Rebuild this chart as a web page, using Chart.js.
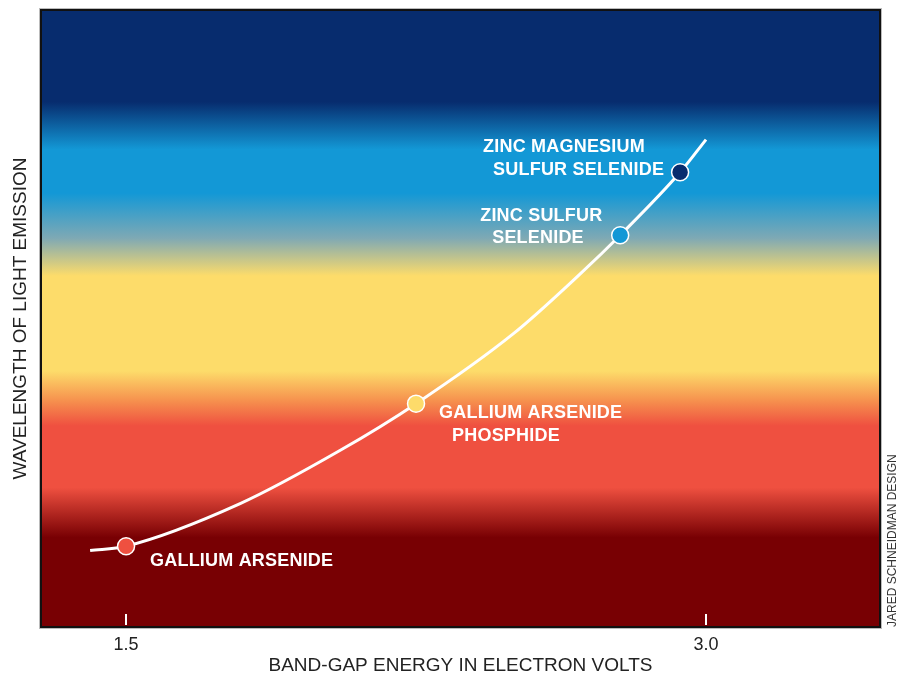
<!DOCTYPE html>
<html>
<head>
<meta charset="utf-8">
<script src="https://cdn.jsdelivr.net/npm/chart.js@4.4.1/dist/chart.umd.min.js"></script>
<style>
  html, body { margin: 0; padding: 0; background: #fff; }
  #wrap { width: 904px; height: 678px; }
</style>
</head>
<body>
<div id="wrap"><canvas id="grafico" width="904" height="678"></canvas></div>
<script>
// --- Dados ---
const materials = ['GALLIUM ARSENIDE', 'GALLIUM ARSENIDE PHOSPHIDE', 'ZINC SULFUR SELENIDE', 'ZINC MAGNESIUM SULFUR SELENIDE'];
const materialEnergy = [1.5, 2.25, 2.778, 2.933];      // eV
const materialWave = [13.1, 36.2, 63.5, 73.7];         // posição relativa (sem escala)
const materialColors = ['#ef5040', '#fddb6a', '#1398d6', '#072c6e'];

// curva (sem marcadores)
const curveEnergy = [1.407, 1.5, 1.795, 2.053, 2.25, 2.501, 2.674, 2.778, 2.933, 3.0];
const curveWave = [12.4, 13.1, 20.0, 28.6, 36.2, 47.5, 57.2, 63.5, 73.7, 79.0];

const xTicks = [1.5, 3.0];

// faixas de cor do espectro (de cima para baixo, em unidades do eixo y)
const bandStops = [100, 85.1, 77.4, 70.3, 63.0, 56.9, 41.5, 36.7, 32.6, 22.6, 14.5, 0];
const bandColors = ['#072c6e', '#072c6e', '#1398d6', '#1398d6', '#7fa9b4', '#fddc6a', '#fddc6a', '#f6914e', '#ef5040', '#ef5040', '#780003', '#780003'];

// --- Plugins ---
const spectrumPlugin = {
  id: 'spectrum',
  beforeDatasetsDraw(chart) {
    const { ctx, chartArea: a, scales: { y } } = chart;
    const g = ctx.createLinearGradient(0, a.top, 0, a.bottom);
    bandStops.forEach((v, i) => {
      const p = (y.getPixelForValue(v) - a.top) / (a.bottom - a.top);
      g.addColorStop(Math.min(1, Math.max(0, p)), bandColors[i]);
    });
    ctx.save();
    ctx.fillStyle = g;
    ctx.fillRect(a.left, a.top, a.right - a.left, a.bottom - a.top);
    // marcas do eixo x (brancas, para dentro)
    ctx.strokeStyle = '#fff';
    ctx.lineWidth = 2;
    xTicks.forEach(t => {
      const px = Math.round(chart.scales.x.getPixelForValue(t));
      ctx.beginPath();
      ctx.moveTo(px, a.bottom - 13);
      ctx.lineTo(px, a.bottom - 2);
      ctx.stroke();
    });
    ctx.restore();
  }
};

// deslocamentos dos rótulos em px, relativos ao marcador
const labelLines = [
  [['GALLIUM ARSENIDE', 24, 15]],
  [['GALLIUM ARSENIDE', 23, 9], ['PHOSPHIDE', 36, 32]],
  [['ZINC SULFUR', -140, -19], ['SELENIDE', -128, 3]],
  [['ZINC MAGNESIUM', -197, -25], ['SULFUR SELENIDE', -187, -2]]
];

const labelsPlugin = {
  id: 'rotulos',
  afterDatasetsDraw(chart) {
    const { ctx } = chart;
    const meta = chart.getDatasetMeta(1);
    ctx.save();
    ctx.fillStyle = '#fff';
    ctx.font = 'bold 18px "Liberation Sans", Arial, sans-serif';
    ctx.letterSpacing = '0.2px';
    ctx.textBaseline = 'middle';
    ctx.textAlign = 'left';
    meta.data.forEach((pt, i) => {
      labelLines[i].forEach(([txt, dx, dy]) => ctx.fillText(txt, pt.x + dx, pt.y + dy));
    });
    ctx.restore();
  },
  afterDraw(chart) {
    const { ctx, chartArea: a } = chart;
    ctx.save();
    // moldura
    ctx.strokeStyle = '#bbb';
    ctx.lineWidth = 1;
    ctx.strokeRect(a.left - 1.5, a.top - 1.5, a.right - a.left + 3, a.bottom - a.top + 3);
    ctx.strokeStyle = '#111';
    ctx.lineWidth = 2;
    ctx.strokeRect(a.left, a.top, a.right - a.left, a.bottom - a.top);
    // crédito
    ctx.translate(a.right + 13, a.bottom);
    ctx.rotate(-Math.PI / 2);
    ctx.fillStyle = '#333';
    ctx.font = '12px "Liberation Sans", Arial, sans-serif';
    ctx.textAlign = 'left';
    ctx.textBaseline = 'middle';
    ctx.fillText('JARED SCHNEIDMAN DESIGN', 0, 0);
    ctx.restore();
  }
};

// --- Gráfico ---
const ctx = document.getElementById('grafico').getContext('2d');
new Chart(ctx, {
  type: 'line',
  data: {
    datasets: [
      {
        data: curveEnergy.map((x, i) => ({ x, y: curveWave[i] })),
        borderColor: '#fff',
        borderWidth: 3,
        pointRadius: 0,
        tension: 0.4,
        cubicInterpolationMode: 'monotone',
        fill: false,
        order: 2
      },
      {
        data: materialEnergy.map((x, i) => ({ x, y: materialWave[i] })),
        showLine: false,
        pointRadius: 8.5,
        pointBackgroundColor: materialColors,
        pointBorderColor: '#fff',
        pointBorderWidth: 1.5,
        order: 1
      }
    ]
  },
  options: {
    responsive: false,
    animation: false,
    layout: { padding: { top: 8, right: 24, bottom: 0, left: 0 } },
    plugins: { legend: { display: false }, tooltip: { enabled: false } },
    scales: {
      x: {
        type: 'linear',
        min: 1.28,
        max: 3.45,
        afterBuildTicks: s => { s.ticks = xTicks.map(v => ({ value: v })); },
        afterFit: s => { s.height = 51; },
        grid: { display: false, drawTicks: false },
        border: { display: false },
        ticks: {
          padding: 7,
          color: '#222',
          font: { size: 18, family: '"Liberation Sans", Arial, sans-serif' },
          callback: v => v.toFixed(1)
        },
        title: {
          display: true,
          text: 'BAND-GAP ENERGY IN ELECTRON VOLTS',
          color: '#222',
          padding: { top: 0, bottom: 1 },
          font: { size: 19, family: '"Liberation Sans", Arial, sans-serif' }
        }
      },
      y: {
        type: 'linear',
        min: 0,
        max: 100,
        afterFit: s => { s.width = 41; },
        grid: { display: false, drawTicks: false },
        border: { display: false },
        ticks: { display: false },
        title: {
          display: true,
          text: 'WAVELENGTH OF LIGHT EMISSION',
          color: '#222',
          padding: { top: 9, bottom: 0 },
          font: { size: 19, family: '"Liberation Sans", Arial, sans-serif' }
        }
      }
    }
  },
  plugins: [spectrumPlugin, labelsPlugin]
});
</script>
</body>
</html>
